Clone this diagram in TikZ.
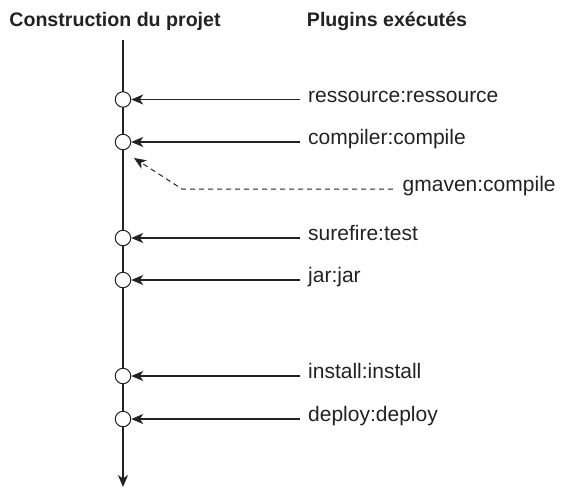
\documentclass[tikz,border=0pt]{standalone}
\usepackage{fontspec}
\setmainfont{Liberation Sans}
\usetikzlibrary{arrows.meta}
\definecolor{ink}{HTML}{222222}
\begin{document}
\begin{tikzpicture}[x=1pt,y=-1pt,color=ink,
  tip/.style={-{Stealth[length=12pt,width=10pt,inset=3.5pt]}},
  stage/.style={circle,draw,fill=white,minimum size=15.5pt,inner sep=0pt,line width=1pt},
  plugin/.style={anchor=mid west,inner xsep=8pt,inner ysep=2pt,font=\fontsize{21}{25}\selectfont},
  head/.style={anchor=base,inner sep=0pt,font=\fontsize{19.6}{24}\selectfont\bfseries},
  feed/.style={tip,line width=1.1pt},
  optional/.style={tip,line width=1pt,dash pattern=on 5pt off 4pt}]
\useasboundingbox (0,0) rectangle (561,490);

% column headings
\node[head] (hbuild) at (115,26) {Construction du projet};
\node[head] (hplug) at (387,26) {Plugins exécutés};

% build timeline
\coordinate (top) at (123,40);
\coordinate (bottom) at (123,487);
\draw[tip,line width=1.2pt] (top) -- (bottom);

% lifecycle stages
\node[stage] (s1) at (123,99.5) {};
\node[stage] (s2) at (123,142) {};
\node[stage] (s3) at (123,238) {};
\node[stage] (s4) at (123,280) {};
\node[stage] (s5) at (123,376) {};
\node[stage] (s6) at (123,419) {};

% plugins bound to each stage
\node[plugin] (p1) at (300,99.5) {ressource:ressource};
\node[plugin] (p2) at (300,142) {compiler:compile};
\node[plugin] (p3) at (300,238) {surefire:test};
\node[plugin] (p4) at (300,280) {jar:jar};
\node[plugin] (p5) at (300,376) {install:install};
\node[plugin] (p6) at (300,419) {deploy:deploy};
\node[plugin,inner xsep=9.5pt] (pg) at (393,189) {gmaven:compile};

\draw[feed] (p1.mid west) -- (s1);
\draw[feed] (p2.mid west) -- (s2);
\draw[feed] (p3.mid west) -- (s3);
\draw[feed] (p4.mid west) -- (s4);
\draw[feed] (p5.mid west) -- (s5);
\draw[feed] (p6.mid west) -- (s6);

% optional gmaven compilation
\coordinate (gbend) at (182,189);
\coordinate (gend) at (134,158);
\draw[optional] (pg.mid west) -- (gbend) -- (gend);
\end{tikzpicture}
\end{document}
